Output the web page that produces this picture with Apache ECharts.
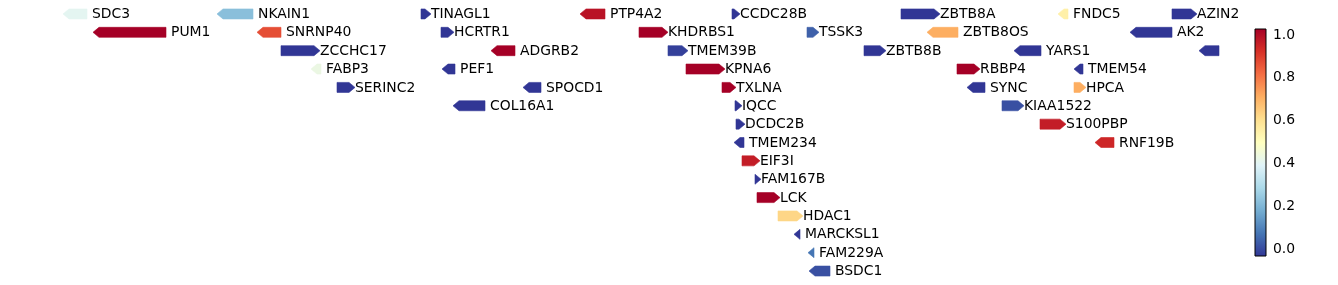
<!DOCTYPE html>
<html><head><meta charset="utf-8">
<script src="https://cdn.jsdelivr.net/npm/echarts@6/dist/echarts.min.js"></script>
<style>html,body{margin:0;padding:0;background:#fff}#c{width:1338px;height:285px}</style>
</head><body><div id="c"></div>
<script>
// Gene track data (x positions in track units, rows are stacking levels)
const geneNames  = ['SDC3','NKAIN1','TINAGL1','PTP4A2','CCDC28B','ZBTB8A','FNDC5','AZIN2',
  'PUM1','SNRNP40','HCRTR1','KHDRBS1','TSSK3','ZBTB8OS','AK2',
  'ZCCHC17','ADGRB2','TMEM39B','ZBTB8B','YARS1','',
  'FABP3','PEF1','KPNA6','RBBP4','TMEM54',
  'SERINC2','SPOCD1','TXLNA','SYNC','HPCA',
  'COL16A1','IQCC','KIAA1522',
  'DCDC2B','S100PBP',
  'TMEM234','RNF19B',
  'EIF3I','FAM167B','LCK','HDAC1','MARCKSL1','FAM229A','BSDC1'];
const geneStart  = [63,217,421,580,732,901,1058,1172,
  93,257,441,639,807,927,1130,
  281,491,668,864,1014,1199,
  311,442,686,957,1074,
  337,523,722,967,1074,
  453,735,1002,
  736,1040,
  734,1095,
  742,755,757,778,794,808,809];
const geneEnd    = [87,253,431,605,740,940,1068,1197,
  166,281,454,668,819,958,1172,
  320,515,688,886,1041,1226,
  321,455,725,980,1083,
  355,541,736,985,1086,
  485,742,1024,
  745,1066,
  744,1114,
  760,761,780,803,800,814,830];
const geneStrand = [-1,-1,1,-1,1,1,-1,1,
  -1,-1,1,1,1,-1,-1,
  1,-1,1,1,-1,-1,
  -1,-1,1,1,-1,
  1,-1,1,-1,1,
  -1,1,1,
  1,1,
  -1,-1,
  1,1,1,1,-1,-1,-1];
const geneRow    = [0,0,0,0,0,0,0,0,
  1,1,1,1,1,1,1,
  2,2,2,2,2,2,
  3,3,3,3,3,
  4,4,4,4,4,
  5,5,5,
  6,6,
  7,7,
  8,9,10,11,12,13,14];
const geneScore  = [0.405,0.222,-0.033,0.985,-0.033,-0.033,0.55,-0.033,
  1.028,0.869,-0.033,1.028,0.04,0.71,-0.033,
  -0.033,1.028,-0.017,-0.033,-0.033,-0.033,
  0.43,-0.033,1.028,1.028,-0.033,
  -0.033,-0.033,1.028,-0.033,0.71,
  -0.033,-0.033,0.01,
  -0.033,0.964,
  -0.033,0.943,
  0.964,-0.033,1.028,0.625,-0.033,0.073,0.01];
const colorbarTicks = [0.0,0.2,0.4,0.6,0.8,1.0];
const scoreMin = -0.033, scoreMax = 1.028;
const rdylbuR = ['#313695','#4575b4','#74add1','#abd9e9','#e0f3f8','#ffffbf','#fee090','#fdae61','#f46d43','#d73027','#a50026'];

const FONT = '13.9px "DejaVu Sans"';
const data = geneNames.map((n,i)=>[geneStart[i],geneEnd[i],geneRow[i],geneScore[i],geneStrand[i],i]);

function renderGene(params, api){
  const l = api.value(0), r = api.value(1), row = api.value(2), s = api.value(4), idx = api.value(5);
  const p1 = api.coord([l,row]), p2 = api.coord([r,row]);
  const cs = params.coordSys;
  const xMax = cs.x + cs.width;
  const y = p1[1], hh = 5;
  const x1 = p1[0], x2 = p2[0];
  const head = Math.min(6, x2-x1);
  let pts;
  if (s>0) pts = [[x1,y-hh],[x2-head,y-hh],[x2,y],[x2-head,y+hh],[x1,y+hh]];
  else pts = [[x2,y-hh],[x1+head,y-hh],[x1,y],[x1+head,y+hh],[x2,y+hh]];
  pts = pts.map(p=>[Math.min(p[0], xMax), p[1]]);
  const color = api.visual('color');
  const children = [
    {type:'polygon', shape:{points:pts}, style:{fill:color, stroke:color, lineWidth:0.6}}
  ];
  if (x2 <= xMax) children.push({type:'text', x: x2 + (s<0?5:0), y: y+0.5,
    style:{text: geneNames[idx], fill:'#000', font:FONT, verticalAlign:'middle', align:'left'}});
  return {type:'group', children:children};
}

function renderBar(params, api){
  const a = api.coord([0, scoreMax]), b = api.coord([1, scoreMin]);
  const stops = rdylbuR.slice().reverse().map((c,i)=>({offset:i/(rdylbuR.length-1), color:c}));
  return {type:'rect', shape:{x:a[0], y:a[1], width:b[0]-a[0], height:b[1]-a[1]},
    style:{fill:new echarts.graphic.LinearGradient(0,0,0,1,stops), stroke:'#000', lineWidth:1}};
}

const chart = echarts.init(document.getElementById('c'), null, {renderer:'canvas'});
chart.setOption({
  animation:false,
  grid:[
    {left:0, top:1, width:1219, height:285},
    {left:1255, top:29, width:11, height:227}
  ],
  xAxis:[
    {type:'value', gridIndex:0, min:0, max:1219, show:false},
    {type:'value', gridIndex:1, min:0, max:1, show:false}
  ],
  yAxis:[
    {type:'value', gridIndex:0, inverse:true, min:-0.705, max:14.759, show:false},
    {type:'value', gridIndex:1, position:'right', min:scoreMin, max:scoreMax,
      axisLine:{show:false}, splitLine:{show:false},
      axisTick:{show:true, length:4, customValues:colorbarTicks, lineStyle:{color:'#000', width:1}},
      axisLabel:{show:true, customValues:colorbarTicks, margin:7, color:'#000', fontFamily:'DejaVu Sans', fontSize:13.9,
        verticalAlign:'middle', padding:[2,0,0,0], formatter:v=>Number(v).toFixed(1)}}
  ],
  visualMap:{type:'continuous', show:false, seriesIndex:0, dimension:3, min:scoreMin, max:scoreMax, inRange:{color:rdylbuR}},
  series:[
    {type:'custom', xAxisIndex:0, yAxisIndex:0, clip:false, renderItem:renderGene, data:data},
    {type:'custom', xAxisIndex:1, yAxisIndex:1, renderItem:renderBar, data:[[0]], z:3}
  ]
});
</script></body></html>
